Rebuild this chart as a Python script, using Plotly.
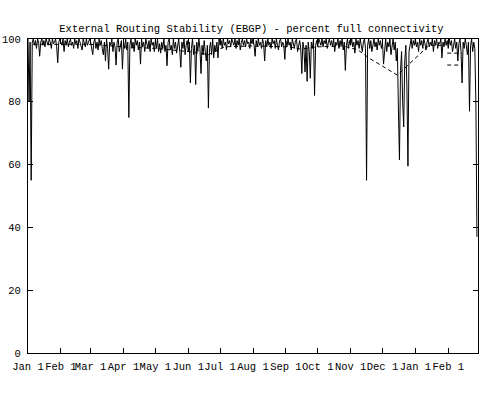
import plotly.graph_objects as go
import pandas as pd

# Daily percent full connectivity, Jan 1 1997 .. Feb 28 1998
jan97 = [100, 80, 99, 55, 99, 100, 98, 99.5, 97, 100, 99, 94.5, 99, 100, 98, 99.5, 97.5, 100, 99, 98, 100, 99, 97, 100, 98.5, 99, 100, 97.5, 92.4, 99, 100]
feb97 = [99, 98, 100, 96, 99.5, 98, 100, 97.5, 99, 100, 98, 99, 97, 100, 98.5, 99.5, 97, 100, 99, 98, 96.5, 100, 99, 97.5, 100, 98, 99, 100]
mar97 = [99, 97, 95, 99, 100, 97, 99, 96.5, 100, 98, 99.5, 97, 95, 99, 93, 100, 97, 90.4, 99, 98, 100, 96, 99, 97.5, 91.7, 99, 100, 96, 98, 99.5, 90.4]
apr97 = [99, 97, 100, 96.5, 99, 75, 98, 100, 97, 99, 96, 100, 98, 99.5, 96.5, 99, 92, 100, 97.5, 99, 96, 100, 98.5, 97, 99.5, 96, 100, 98, 99, 96]
may97 = [99.5, 97, 100, 96, 98.5, 95.5, 99, 97, 100, 96, 98, 91.5, 99, 100, 96.5, 98, 95, 100, 97, 99, 95.5, 98.5, 100, 96, 91, 99, 97, 100, 95, 98, 99.5]
jun97 = [96, 99, 86, 97, 100, 95, 98, 85.5, 99, 96, 100, 97, 89, 98, 95, 99.5, 96, 93, 98, 78, 97, 99, 95, 100, 94, 98, 96, 99, 94, 100]
jul97 = [98, 99.5, 97, 100, 98, 99, 96.5, 100, 98.5, 99.5, 97.5, 100, 99, 98, 100, 97, 99.5, 98, 100, 96.5, 99, 100, 98, 99.5, 97.5, 100, 98.5, 99, 97, 100, 98.5]
aug97 = [100, 98, 94.5, 99.5, 97.5, 100, 98, 99, 97, 100, 98.5, 93, 99.5, 97.5, 100, 98, 99, 97, 100, 98.5, 99.5, 97, 100, 98, 96.5, 99.5, 100, 97.5, 99, 98, 93.5]
sep97 = [99.5, 97.5, 100, 98, 99, 96.5, 100, 98.5, 97, 99.5, 100, 96, 98.5, 99.5, 97, 89, 99, 97, 89.5, 98, 86.5, 99, 96, 87.5, 99, 97, 100, 82, 98, 99.5]
oct97 = [97.5, 100, 99, 98, 100, 97.5, 99.5, 98.5, 100, 97, 99, 100, 98, 99.5, 97.5, 100, 96, 99, 98, 100, 97, 99.5, 98, 100, 96.5, 99, 90, 98, 100, 97, 99.5]
nov97 = [98, 100, 97.5, 99, 95.5, 100, 98, 99.5, 97, 100, 98.5, 96, 99, 100, 97, 55, 98, 100, 97, 99.5, 96, 99, 100, 97.5, 99, 96.5, 100, 98, 99.5, 97]
dec97 = [99, 92, 98, 100, 96, 99, 97.5, 100, 95, 98.5, 100, 96.5, 99, 93, 97, 78, 61.5, 90, 96, 80, 72, 93, 98, 85, 59.5, 96, 99, 100, 97, 99.5, 98]
jan98 = [100, 97.5, 99, 96, 100, 98, 99.5, 97, 100, 98.5, 96.5, 99, 100, 97.5, 99, 98, 100, 96, 99.5, 98, 100, 97, 99, 98.5, 100, 94, 99, 97.5, 100, 98, 99.5]
feb98 = [97, 100, 98, 99.5, 96, 99, 100, 97, 99, 93, 98.5, 100, 96, 86, 99, 97, 100, 98, 95, 99, 77, 98, 100, 96, 99, 97, 80, 37]

values = jan97 + feb97 + mar97 + apr97 + may97 + jun97 + jul97 + aug97 + sep97 + oct97 + nov97 + dec97 + jan98 + feb98
dates = pd.date_range("1997-01-01", periods=len(values), freq="D")

# Dashed trend line
dash_dates = ["1997-01-06", "1997-02-27", "1997-04-01", "1997-05-01", "1997-06-01", "1997-06-20",
              "1997-07-05", "1997-08-01", "1997-09-03", "1997-09-15", "1997-10-01", "1997-10-25",
              "1997-11-08", "1997-11-18", "1997-12-15", "1998-01-04", "1998-01-14", "1998-01-29",
              None, "1998-01-31", "1998-02-14", None, "1998-01-31", "1998-02-14"]
dash_vals = [98.3, 98.3, 97.5, 97, 96, 95,
             97.5, 97.8, 97.5, 96.8, 97.5, 97.8,
             96.5, 94, 88.5, 95, 98, 98,
             None, 95.5, 95.5, None, 91.7, 91.7]

tick_dates = ["1997-01-01", "1997-02-01", "1997-03-01", "1997-04-01", "1997-05-01", "1997-06-01",
              "1997-07-01", "1997-08-01", "1997-09-01", "1997-10-01", "1997-11-01", "1997-12-01",
              "1998-01-01", "1998-02-01", "1998-03-01"]
tick_text = ["Jan 1", "Feb 1", "Mar 1", "Apr 1", "May 1", "Jun 1", "Jul 1", "Aug 1", "Sep 1",
             "Oct 1", "Nov 1", "Dec 1", "Jan 1", "Feb 1", ""]

font = dict(family="Liberation Mono, Courier New, monospace", size=10.5, color="black")

fig = go.Figure()
fig.add_trace(go.Scatter(x=dates, y=values, mode="lines",
                         line=dict(color="black", width=1), showlegend=False))
fig.add_trace(go.Scatter(x=dash_dates, y=dash_vals, mode="lines", connectgaps=False,
                         line=dict(color="black", width=1, dash="4px,3px"), showlegend=False))

fig.update_layout(
    width=503, height=395,
    margin=dict(l=28, r=25, t=39, b=42),
    paper_bgcolor="white", plot_bgcolor="white",
    font=font,
    title=dict(text="External Routing Stability (EBGP) - percent full connectivity",
               x=0.5, xref="container", y=1 - 28 / 395, yref="container",
               xanchor="center", yanchor="middle", font=font),
)
fig.update_xaxes(type="date", range=["1997-01-01", "1998-03-01"], automargin=False,
                 tickmode="array", tickvals=tick_dates, ticktext=tick_text,
                 ticks="inside", ticklen=5, tickcolor="black", tickwidth=1,
                 showline=True, linecolor="black", linewidth=1, mirror="ticks",
                 showgrid=False, zeroline=False, tickfont=font, tickangle=0,
                 ticklabelstandoff=3)
fig.update_yaxes(range=[0, 100], tickvals=[0, 20, 40, 60, 80, 100], automargin=False,
                 ticks="inside", ticklen=5, tickcolor="black", tickwidth=1,
                 showline=True, linecolor="black", linewidth=1, mirror="ticks",
                 showgrid=False, zeroline=False, tickfont=font, ticklabelstandoff=4)

fig.write_html("out.html")
